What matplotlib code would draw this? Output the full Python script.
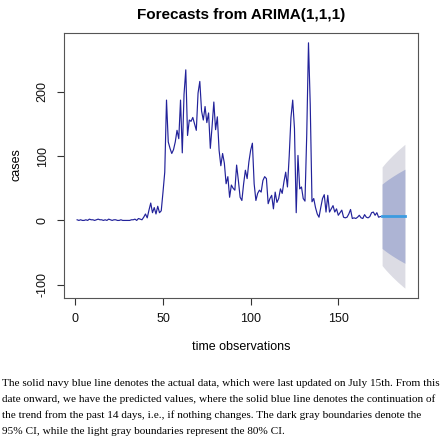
import matplotlib
matplotlib.use("Agg")
import matplotlib.pyplot as plt
import numpy as np

# ---- data ----
cases = [
    # t = 1..38 (flat start)
    1, 0, 1, 0, 0, 1, 0, 2, 1, 1, 0, 1, 2, 1, 1, 0, 1, 0, 2, 1,
    0, 1, 1, 0, 0, 1, 0, 0, 0, 0, 0, 1, 1, 2, 0, 3, 2, 1,
    # t = 39..52
    5, 10, 4, 16, 27, 12, 20, 10, 22, 12, 15, 44, 75, 187,
    # t = 53..69
    122, 112, 104, 110, 122, 140, 127, 187, 105, 196, 234, 132, 156, 154, 160, 150, 140,
    # t = 70..82
    198, 216, 170, 156, 177, 152, 167, 112, 146, 184, 141, 161, 109,
    # t = 83..110
    85, 104, 89, 57, 68, 36, 55, 50, 47, 86, 62, 36, 31, 57, 78, 65, 91, 109, 120, 57,
    31, 42, 47, 44, 62, 68, 65, 26,
    # t = 111..135
    34, 39, 18, 44, 28, 34, 49, 42, 60, 75, 52, 100, 160, 187, 143, 12, 101, 49, 52, 34,
    30, 133, 276, 180, 29,
    # t = 136..174
    34, 20, 10, 5, 20, 34, 40, 13, 39, 13, 18, 23, 13, 18, 8, 12, 16, 5, 4, 5,
    10, 17, 3, 4, 3, 5, 8, 4, 3, 9, 5, 4, 6, 12, 13, 8, 12, 5, 6,
]

fc_mean = [6.5] * 14
hi80 = [56.5, 58.7, 60.8, 62.8, 64.7, 66.5, 68.3, 70.0, 71.7, 73.4, 75.0, 76.5, 78.1, 79.6]
lo80 = [-43.5, -45.7, -47.8, -49.8, -51.7, -53.5, -55.3, -57.0, -58.7, -60.4, -62.0, -63.5, -65.1, -66.6]
hi95 = [83.0, 86.4, 89.6, 92.6, 95.5, 98.3, 101.1, 103.7, 106.3, 108.9, 111.3, 113.6, 116.0, 118.3]
lo95 = [-70.0, -73.4, -76.6, -79.6, -82.5, -85.3, -88.1, -90.7, -93.3, -95.9, -98.3, -100.6, -103.0, -105.3]

xticks = [0, 50, 100, 150]
yticks = [-100, 0, 100, 200]

title = "Forecasts from ARIMA(1,1,1)"
xlabel = "time observations"
ylabel = "cases"
caption = [
    "The solid navy blue line denotes the actual data, which were last updated on July 15th. From this",
    "date onward, we have the predicted values, where the solid blue line denotes the continuation of",
    "the trend from the past 14 days, i.e., if nothing changes. The dark gray boundaries denote the",
    "95% CI, while the light gray boundaries represent the 80% CI.",
]

# ---- figure ----
W, H = 440, 437
fig = plt.figure(figsize=(W / 100, H / 100), dpi=100)
fig.patch.set_facecolor("white")

L, R, T, B = 64, 418, 33, 298
ax = fig.add_axes([L / W, 1 - B / H, (R - L) / W, (B - T) / H])

n = len(cases)
t = np.arange(1, n + 1)
tf = np.arange(n + 1, n + 1 + len(fc_mean))

ax.fill_between(tf, lo95, hi95, color="#dcdce4", lw=0)
ax.fill_between(tf, lo80, hi80, color="#adb4d4", lw=0)
ax.plot(t, cases, color="#22229a", lw=0.85)
ax.plot(tf, fc_mean, color="#3c9be0", lw=2.0)

# R-style 4% axis extension
xmin, xmax = 1, tf[-1]
ymin = min(min(lo95), min(cases))
ymax = max(max(hi95), max(cases))
dx = (xmax - xmin) * 0.04
dy = (ymax - ymin) * 0.04
ax.set_xlim(xmin - dx, xmax + dx)
ax.set_ylim(ymin - dy, ymax + dy)

ax.set_xticks(xticks)
ax.set_yticks(yticks)
ax.set_xticklabels([str(v) for v in xticks])
ax.set_yticklabels([str(v) for v in yticks], rotation=90, va="center")
ax.tick_params(axis="both", direction="out", length=5, width=0.8, color="#333333",
               labelsize=9, labelcolor="#111111")
ax.tick_params(axis="x", pad=6)
ax.tick_params(axis="y", pad=6)
for lab in ax.get_xticklabels() + ax.get_yticklabels():
    lab.set_fontfamily("Liberation Sans")
for s in ax.spines.values():
    s.set_color("#555555")
    s.set_linewidth(0.8)

fig.text(241 / W, 1 - 15 / H, title, ha="center", va="center", fontsize=11,
         fontweight="bold", family="Liberation Sans")
fig.text(241 / W, 1 - 347 / H, xlabel, ha="center", va="center", fontsize=9,
         family="Liberation Sans")
fig.text(17 / W, 1 - 165 / H, ylabel, ha="center", va="center", fontsize=9,
         rotation=90, family="Liberation Sans")

for i, line in enumerate(caption):
    fig.text(2 / W, 1 - (383 + 16 * i) / H, line, ha="left", va="center", fontsize=8.1,
             family="Liberation Serif")

fig.savefig("out.png", dpi=100)
